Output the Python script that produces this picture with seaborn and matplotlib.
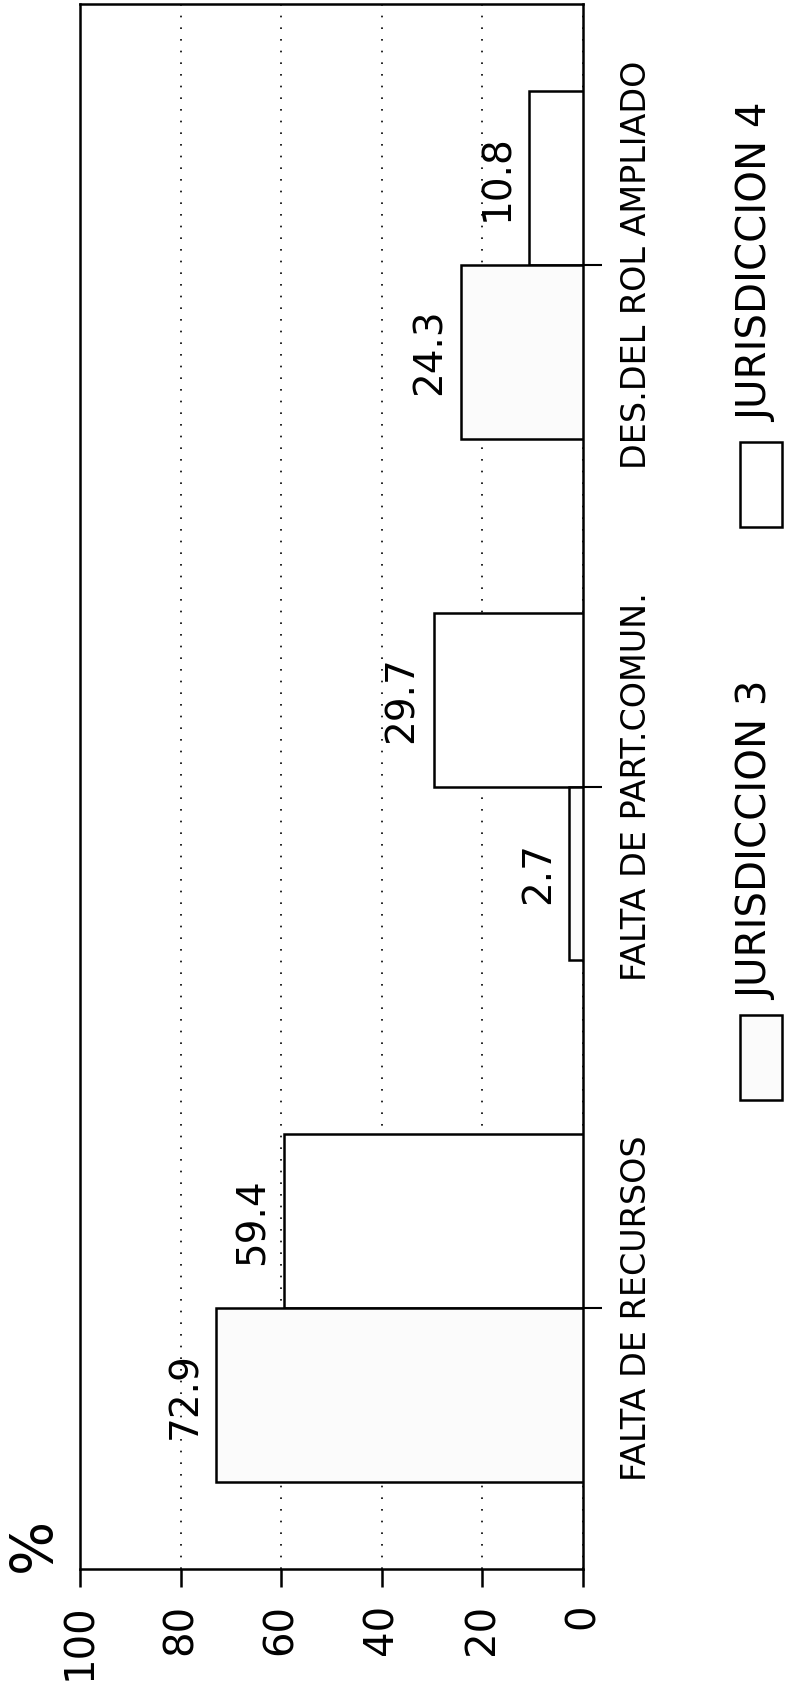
import pandas as pd
import matplotlib.pyplot as plt
import seaborn as sns
from matplotlib.patches import Rectangle

# Datos del grafico (valores en %)
categorias = ['DES.DEL ROL AMPLIADO', 'FALTA DE PART.COMUN.', 'FALTA DE RECURSOS']
jurisdicciones = ['JURISDICCION 4', 'JURISDICCION 3']
valores_j3 = [24.3, 2.7, 72.9]
valores_j4 = [10.8, 29.7, 59.4]
ticks_pct = [0, 20, 40, 60, 80, 100]


def main():
    sns.set_style('white')
    plt.rcParams['font.family'] = ['DejaVu Sans']
    plt.rcParams['text.color'] = 'black'
    plt.rcParams['xtick.color'] = 'black'
    plt.rcParams['ytick.color'] = 'black'

    df = pd.DataFrame({
        'categoria': categorias * 2,
        'jurisdiccion': ['JURISDICCION 3'] * 3 + ['JURISDICCION 4'] * 3,
        'valor': valores_j3 + valores_j4,
    })

    colores = {'JURISDICCION 3': '#fbfbfb', 'JURISDICCION 4': 'white'}

    fig = plt.figure(figsize=(7.86, 16.92), dpi=100)
    ax = fig.add_axes([80 / 786, 1 - 1569 / 1692, 503 / 786, 1565 / 1692])

    sns.barplot(data=df, x='valor', y='categoria', hue='jurisdiccion',
                order=categorias, hue_order=jurisdicciones, palette=colores,
                orient='h', width=2 / 3, saturation=1, edgecolor='black',
                linewidth=1.8, legend=False, ax=ax, zorder=3)

    ax.set_xlim(100, 0)
    ax.set_ylim(2.5, -0.5)
    ax.set_xlabel('')
    ax.set_ylabel('')

    # lineas de referencia punteadas
    ax.set_xticks(ticks_pct)
    ax.xaxis.grid(True, color='black', linewidth=1.2, linestyle=(0, (1, 6)))
    ax.set_axisbelow(True)

    for s in ax.spines.values():
        s.set_linewidth(1.8)
        s.set_color('black')

    ax.tick_params(axis='x', direction='out', length=13, width=1.8, pad=12,
                   labelsize=29, labelrotation=90, bottom=True, colors='black')
    ax.yaxis.tick_right()
    ax.tick_params(axis='y', direction='out', length=14, width=1.5, pad=13,
                   labelsize=24, labelrotation=90, right=True, left=False,
                   colors='black')
    for lab in ax.get_yticklabels():
        lab.set_va('center')

    # etiquetas de valor sobre cada barra
    for cont in ax.containers:
        for bar in cont:
            w = bar.get_width()
            yc = bar.get_y() + bar.get_height() / 2
            ax.annotate(f'{w:.1f}', xy=(w, yc), xytext=(-9, 0),
                        textcoords='offset points', rotation=90,
                        ha='right', va='center', fontsize=28, color='black')

    fig.text(34 / 786, 1 - 1572 / 1692, '%', rotation=90, ha='center',
             va='bottom', fontsize=41, color='black')

    # leyenda girada
    leyenda = [('JURISDICCION 3', 1100, 1000), ('JURISDICCION 4', 527, 422)]
    for nombre, y_patch, y_text in leyenda:
        fig.add_artist(Rectangle((740 / 786, 1 - y_patch / 1692), 42 / 786, 85 / 1692,
                                 transform=fig.transFigure, facecolor=colores[nombre],
                                 edgecolor='black', linewidth=1.8))
        fig.text(737 / 786, 1 - y_text / 1692, nombre, rotation=90,
                 ha='left', va='bottom', fontsize=29, color='black')

    fig.savefig('out.png', dpi=100)
    plt.close(fig)


if __name__ == '__main__':
    main()
